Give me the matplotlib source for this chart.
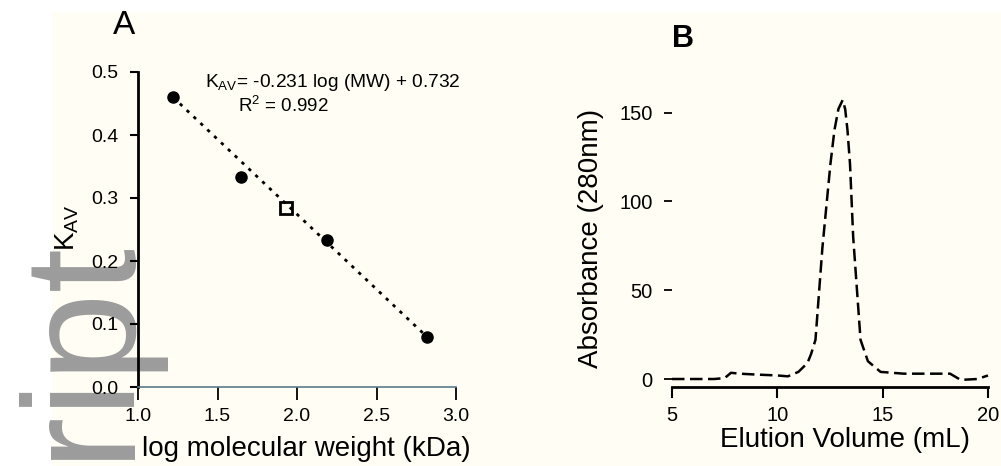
import matplotlib
matplotlib.use("Agg")
import matplotlib.pyplot as plt
from matplotlib.patches import Rectangle

plt.rcParams['font.family'] = ['Liberation Sans', 'DejaVu Sans']
plt.rcParams['mathtext.fontset'] = 'custom'
plt.rcParams['mathtext.rm'] = 'Liberation Sans'
plt.rcParams['mathtext.it'] = 'Liberation Sans'

# ---- Panel A data ----
std_logmw = [1.22, 1.65, 2.19, 2.82]
std_kav = [0.46, 0.333, 0.233, 0.079]
unk_logmw = [1.93]
unk_kav = [0.284]
fit_logmw = [1.22, 2.82]
fit_kav = [0.46, 0.079]
a_xticks = [1.0, 1.5, 2.0, 2.5, 3.0]
a_xticklabels = ['1.0', '1.5', '2.0', '2.5', '3.0']
a_yticks = [0.0, 0.1, 0.2, 0.3, 0.4, 0.5]
a_yticklabels = ['0.0', '0.1', '0.2', '0.3', '0.4', '0.5']

# ---- Panel B data ----
elution_ml = [5.0, 7.0, 7.5, 7.8, 8.2, 9.0, 10.0, 10.5, 11.0, 11.43, 11.6, 11.81,
              12.14, 12.52, 12.71, 12.9, 13.1, 13.22, 13.33, 13.45, 13.6, 13.95,
              14.3, 14.9, 16.0, 17.0, 18.2, 18.7, 19.5, 20.0]
absorb = [0.0, 0.0, 0.5, 3.5, 3.0, 2.5, 2.0, 1.5, 4.0, 9.0, 14.0, 22.0,
          74.0, 121.0, 140.0, 152.0, 157.0, 152.0, 140.0, 121.0, 80.0, 22.0,
          10.0, 4.0, 3.0, 3.0, 3.0, -0.5, 0.0, 2.0]
b_xticks = [5, 10, 15, 20]
b_yticks = [0, 50, 100, 150]

W, H = 1001, 466
fig = plt.figure(figsize=(W / 100, H / 100), dpi=100)
fig.patch.set_facecolor('white')

def fx(x):
    return x / W

def fy(y):
    return 1 - y / H

# cream background
fig.patches.append(Rectangle((fx(52), 0), 1 - fx(52), fy(12), transform=fig.transFigure,
                             facecolor='#fffdf4', edgecolor='none', zorder=-10))
# watermark
fig.text(fx(123), fy(234), 'Manuscript', rotation=90, rotation_mode='anchor',
         ha='right', va='baseline', fontsize=115, color='#9c9c9c', zorder=-5)

# ---------------- Panel A ----------------
axA = fig.add_axes([fx(138), fy(387), 318 / W, 315 / H])
axA.set_facecolor('none')
axA.plot(fit_logmw, fit_kav, color='black', lw=2.0, dashes=(1.2, 2.2), clip_on=False)
axA.plot(std_logmw, std_kav, 'o', color='black', ms=8, clip_on=False)
axA.plot(unk_logmw, unk_kav, 's', mfc='none', mec='black', mew=2, ms=8, clip_on=False)
axA.set_xlim(1.0, 3.0)
axA.set_ylim(0.0, 0.5)
axA.set_xticks(a_xticks)
axA.set_xticklabels(a_xticklabels)
axA.set_yticks(a_yticks)
axA.set_yticklabels(a_yticklabels)
for s in ['top', 'right']:
    axA.spines[s].set_visible(False)
axA.spines['left'].set_linewidth(2)
axA.spines['bottom'].set_linewidth(1.2)
axA.spines['bottom'].set_color('#5a7c8c')
axA.tick_params(axis='y', length=6, width=1.5, pad=8, labelsize=14)
axA.tick_params(axis='x', length=9, width=1.3, pad=6, labelsize=14)

fig.text(fx(124), fy(26), 'A', fontsize=24, ha='center', va='center')
fig.text(fx(67), fy(228), r'$\mathregular{K_{AV}}$', rotation=90, fontsize=20,
         ha='center', va='center')
fig.text(fx(306), fy(449), 'log molecular weight (kDa)', fontsize=20,
         ha='center', va='center')
fig.text(fx(205), fy(83), r'$\mathregular{K_{AV}}$= -0.231 log (MW) + 0.732',
         fontsize=13.8, ha='left', va='center')
fig.text(fx(238), fy(106), r'R$^2$ = 0.992', fontsize=13.5, ha='left', va='center')

# ---------------- Panel B ----------------
axB = fig.add_axes([fx(672), fy(387), 316 / W, (387 - 99) / H])
axB.set_facecolor('none')
axB.plot(elution_ml, absorb, color='black', lw=1.8, dashes=(5, 2.2), clip_on=False)
axB.set_xlim(5, 20)
axB.set_ylim(-4.5, 157.6)
axB.set_xticks(b_xticks)
axB.set_yticks(b_yticks)
for s in ['top', 'right', 'left']:
    axB.spines[s].set_visible(False)
axB.spines['bottom'].set_linewidth(2)
axB.tick_params(axis='y', length=6, width=1.3, pad=8, labelsize=14.5)
axB.tick_params(axis='x', length=8, width=1.5, pad=6, labelsize=14.5)

fig.text(fx(683), fy(39), 'B', fontsize=22, fontweight='bold', ha='center', va='center')
fig.text(fx(591), fy(238), 'Absorbance (280nm)', rotation=90, fontsize=20,
         ha='center', va='center')
fig.text(fx(845), fy(440), 'Elution Volume (mL)', fontsize=20, ha='center', va='center')

fig.savefig('out.png', dpi=100)
